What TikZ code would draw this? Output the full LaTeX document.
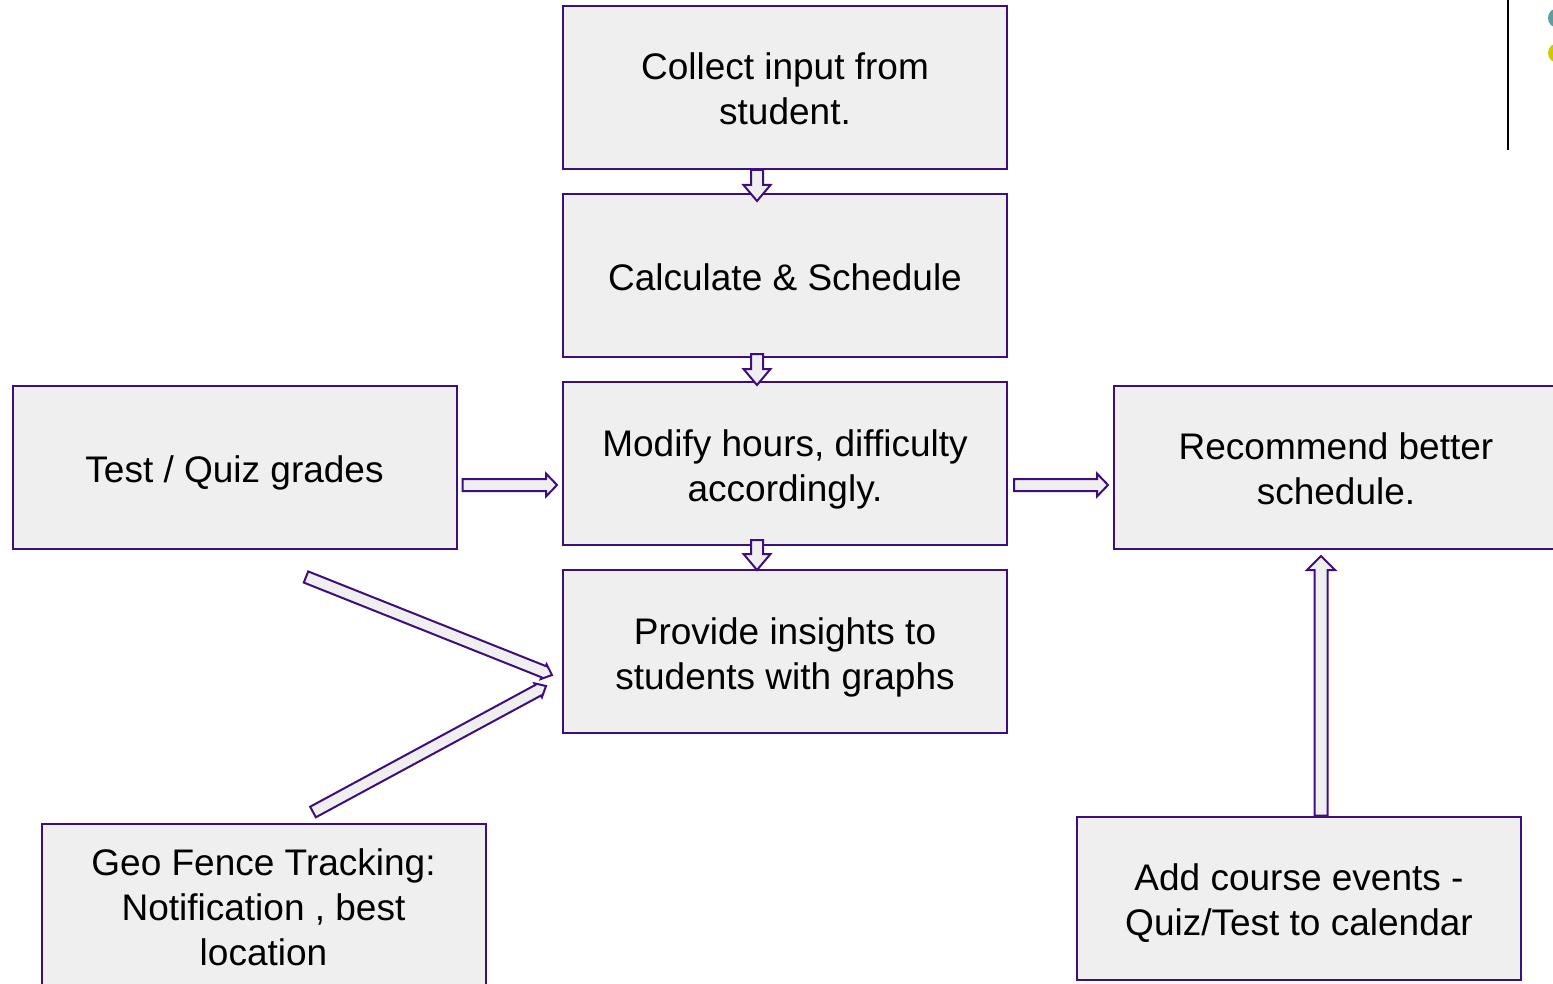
\documentclass[tikz,border=0pt]{standalone}
\usepackage{fontspec}
\setmainfont{Liberation Sans}
\usetikzlibrary{calc}
\definecolor{boxline}{HTML}{3F0E7E}
\definecolor{boxfill}{HTML}{EFEFEF}
\definecolor{dotteal}{HTML}{5F9EA0}
\definecolor{dotyellow}{HTML}{CCCC00}
\tikzset{
  stepbox/.style={draw=boxline, fill=boxfill, line width=2pt, minimum width=444pt, minimum height=163pt,
    inner sep=0pt},
  steptext/.style={align=center, font=\fontsize{37}{45}\selectfont, inner sep=0pt},
  blockarrow/.style={draw=boxline, fill=boxfill, line width=2pt, line join=miter}
}
\newcommand\blockarr[5]{%
  \coordinate (bab) at ($(#2)!#5!(#1)$);
  \draw[blockarrow] ($(#1)!#3!90:(#2)$) -- ($(bab)!#3!90:(#2)$) -- ($(bab)!#4!90:(#2)$) -- (#2)
    -- ($(bab)!#4!-90:(#2)$) -- ($(bab)!#3!-90:(#2)$) -- ($(#1)!#3!-90:(#2)$) -- cycle;
}
\begin{document}
\begin{tikzpicture}[x=1pt,y=-1pt]
\useasboundingbox (0,0) rectangle (1553,984);
% boxes
\node[stepbox, label={[steptext, yshift=-1pt]center:{Collect input from\\student.}}] (collect) at (785,87.5) {};
\node[stepbox, label={[steptext, yshift=-2pt]center:{Calculate \& Schedule}}] (calc) at (785,275.5) {};
\node[stepbox, label={[steptext, yshift=-5.5pt]center:{Modify hours, difficulty\\accordingly.}}] (modify) at (785,463.5) {};
\node[stepbox, label={[steptext, yshift=-6pt]center:{Provide insights to\\students with graphs}}] (insight) at (785,651.5) {};
\node[stepbox, label={[steptext, yshift=-5pt]center:{Test / Quiz grades}}] (grades) at (234.5,467.5) {};
\node[stepbox, label={[steptext, yshift=-1pt]center:{Recommend better\\schedule.}}] (recommend) at (1336,467.5) {};
\node[stepbox, label={[steptext, yshift=-2pt]center:{Geo Fence Tracking:\\Notification , best\\location}}] (geo) at (263.5,905.5) {};
\node[stepbox, label={[steptext, yshift=-5pt]center:{Add course events -\\Quiz/Test to calendar}}] (course) at (1299,898) {};
% arrow end points
\coordinate (a1s) at ($(collect.south)+(-28,0)$);
\coordinate (a1t) at ($(calc.north)+(-28,8)$);
\coordinate (a2s) at ($(calc.south)+(-28,-4)$);
\coordinate (a2t) at ($(modify.north)+(-28,4)$);
\coordinate (a3s) at ($(modify.south)+(-28,-6)$);
\coordinate (a3t) at ($(insight.north)+(-28,1)$);
\coordinate (a4s) at ($(grades.east)+(5,17.5)$);
\coordinate (a4t) at ($(modify.west)+(-5,21.5)$);
\coordinate (a5s) at ($(modify.east)+(6,21.5)$);
\coordinate (a5t) at ($(recommend.west)+(-5,17.5)$);
\coordinate (a6s) at ($(course.north)+(22,0)$);
\coordinate (a6t) at ($(recommend.south)+(-15,6)$);
\coordinate (a7s) at (306,577);
\coordinate (a7t) at ($(insight.west)+(-10,23.5)$);
\coordinate (a8s) at (313,812);
\coordinate (a8t) at ($(insight.west)+(-16,34.5)$);
% arrows
\blockarr{a1s}{a1t}{6pt}{13.5pt}{16pt}
\blockarr{a2s}{a2t}{6pt}{13.5pt}{16pt}
\blockarr{a3s}{a3t}{6pt}{13.5pt}{16pt}
\blockarr{a4s}{a4t}{6pt}{11.5pt}{11pt}
\blockarr{a5s}{a5t}{6pt}{11.5pt}{11pt}
\blockarr{a6s}{a6t}{6.5pt}{14pt}{14pt}
\blockarr{a7s}{a7t}{6pt}{8pt}{9pt}
\blockarr{a8s}{a8t}{6pt}{8pt}{9pt}
% decoration top right
\draw[line width=2pt, black] (1508,0) -- (1508,150);
\fill[dotteal] (1558,18) circle (10);
\fill[dotyellow] (1558,53) circle (10);
\end{tikzpicture}
\end{document}
